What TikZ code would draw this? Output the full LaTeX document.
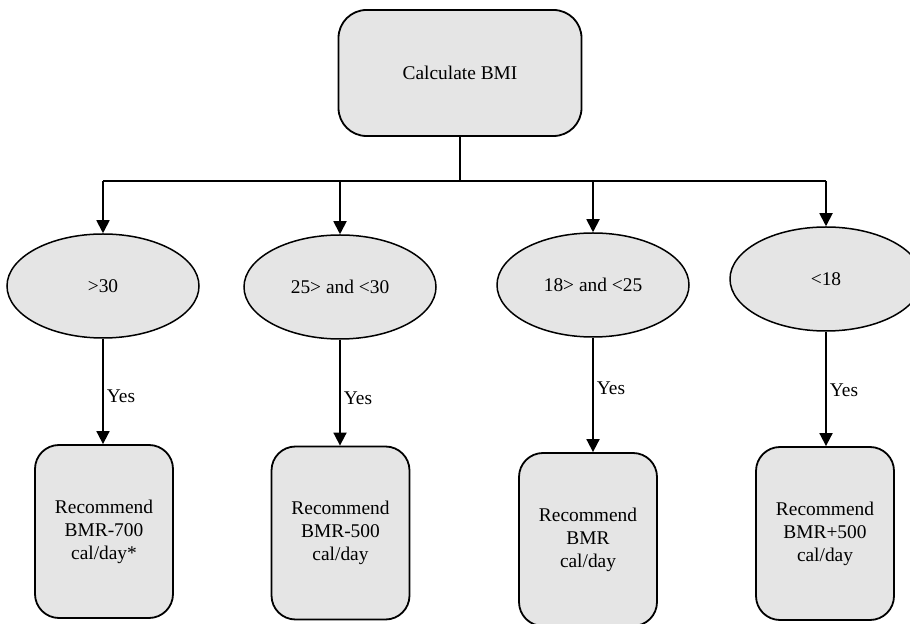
\documentclass[tikz,border=0pt]{standalone}
\usepackage{fontspec}
\setmainfont{Liberation Serif}
\usetikzlibrary{shapes.geometric,arrows.meta}
\tikzset{
  boxnode/.style={draw, line width=0.9pt, fill=black!10, rounded corners=12pt,
    minimum width=69pt, minimum height=86.5pt, align=center, inner sep=0pt},
  ellnode/.style={ellipse, draw, line width=0.75pt, fill=black!10,
    minimum width=96pt, minimum height=52pt, inner sep=0pt},
  link/.style={line width=0.9pt},
  arr/.style={link, -{Triangle[width=6.5pt,length=6.5pt]}},
  yes/.style={right, inner sep=1.5pt}
}
\begin{document}
\begin{tikzpicture}[x=0.5pt, y=-0.5pt, font=\fontsize{9.7}{11.5}\selectfont]
\useasboundingbox (0,0) rectangle (910,624);
\node [boxnode, minimum width=121.5pt, minimum height=63pt, rounded corners=14pt] (bmi) at (460,73) {Calculate BMI};
\coordinate (bus) at (463,181);
\node [ellnode] (e1) at (103,286) {>30};
\node [ellnode] (e2) at (340,287) {25> and <30};
\node [ellnode] (e3) at (593,285) {18> and <25};
\node [ellnode] (e4) at (826,279) {<18};
\node [boxnode] (r1) at (104,531.5) {Recommend\\BMR-700\\cal/day*};
\node [boxnode] (r2) at (340.5,533) {Recommend\\BMR-500\\cal/day};
\node [boxnode] (r3) at (588,539.5) {Recommend\\BMR\\cal/day};
\node [boxnode] (r4) at (825,533.5) {Recommend\\BMR+500\\cal/day};
\draw [link] (bmi.south) -- (bmi.south |- bus);
\draw [link] (e1.north |- bus) -- (e4.north |- bus);
\foreach \e in {e1,e2,e3,e4}
  \draw [arr] (\e.north |- bus) -- (\e.north);
\draw [arr] (e1.south) -- node [yes, pos=0.55] {Yes} (e1.south |- r1.north);
\draw [arr] (e2.south) -- node [yes, pos=0.55] {Yes} (e2.south |- r2.north);
\draw [arr] (e3.south) -- node [yes, pos=0.44] {Yes} (e3.south |- r3.north);
\draw [arr] (e4.south) -- node [yes, pos=0.51] {Yes} (e4.south |- r4.north);
\end{tikzpicture}
\end{document}
